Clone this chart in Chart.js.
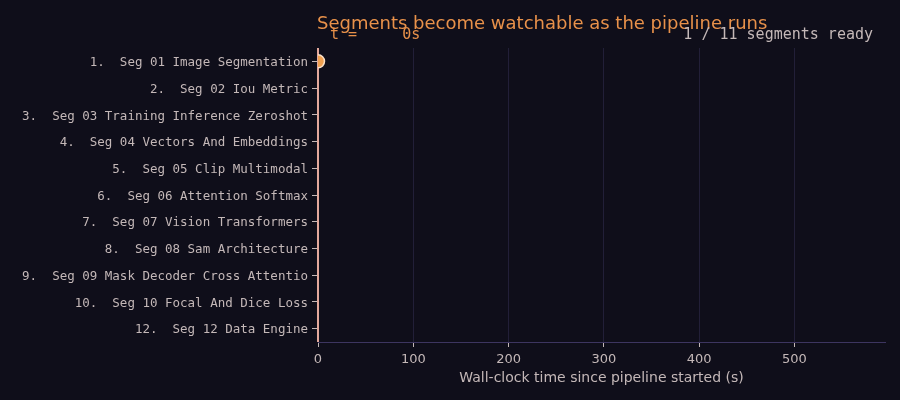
<!DOCTYPE html>
<html><head><meta charset="utf-8">
<script src="https://cdn.jsdelivr.net/npm/chart.js@4.4.1/dist/chart.umd.min.js"></script>
<style>html,body{margin:0;padding:0;background:#0f0e1a;}#wrap{width:900px;height:400px;position:relative;}</style>
</head><body><div id="wrap"><canvas id="c" width="900" height="400"></canvas></div>
<script>
const segments = [
  "1.  Seg 01 Image Segmentation",
  "2.  Seg 02 Iou Metric",
  "3.  Seg 03 Training Inference Zeroshot",
  "4.  Seg 04 Vectors And Embeddings",
  "5.  Seg 05 Clip Multimodal",
  "6.  Seg 06 Attention Softmax",
  "7.  Seg 07 Vision Transformers",
  "8.  Seg 08 Sam Architecture",
  "9.  Seg 09 Mask Decoder Cross Attentio",
  "10.  Seg 10 Focal And Dice Loss",
  "12.  Seg 12 Data Engine"
];
const readyTimes = [0];          // seconds at which segment became ready (index = row)
const tNow = 0;
const totalSegments = 11;
const xMax = 595;
const xTicks = [0, 100, 200, 300, 400, 500];

const readyPoints = readyTimes.map((t, i) => ({x: t, y: i}));
const cursorPoints = [{x: tNow, y: -0.5}, {x: tNow, y: segments.length - 0.5}];

const overlay = {
  id: 'overlay',
  afterDraw(chart) {
    const ctx = chart.ctx, a = chart.chartArea;
    ctx.save();
    ctx.fillStyle = '#e8914a';
    ctx.font = '18px "DejaVu Sans"';
    ctx.textAlign = 'left'; ctx.textBaseline = 'alphabetic';
    ctx.fillText('Segments become watchable as the pipeline runs', a.left - 1, 29);
    ctx.font = '15px "DejaVu Sans Mono"';
    ctx.textBaseline = 'middle';
    ctx.fillText('t = ' + String(tNow).padStart(5, ' ') + 's', a.left + 12, 35);
    ctx.fillStyle = '#c4b8b8';
    ctx.textAlign = 'right';
    ctx.fillText(readyTimes.length + ' / ' + totalSegments + ' segments ready', a.right - 12, 35);
    ctx.restore();
  }
};

new Chart(document.getElementById('c'), {
  type: 'scatter',
  data: {
    datasets: [
      {
        type: 'line', data: cursorPoints, borderColor: '#e2a89c', borderWidth: 2,
        pointRadius: 0, clip: false, order: 2
      },
      {
        data: readyPoints, backgroundColor: '#f0a050', borderColor: '#fbe0c8',
        borderWidth: 1.5, pointRadius: 6.5, order: 1
      }
    ]
  },
  plugins: [overlay],
  options: {
    responsive: false, animation: false,
    layout: {padding: {left: 0, right: 15, top: 48, bottom: 0}},
    plugins: {legend: {display: false}, tooltip: {enabled: false}, title: {display: false}},
    scales: {
      x: {
        type: 'linear', min: 0, max: xMax,
        afterBuildTicks: s => { s.ticks = xTicks.map(v => ({value: v})); },
        afterFit: s => { s.height = 58; },
        grid: {color: '#221f38', lineWidth: 1, drawTicks: true, tickLength: 5, tickColor: '#c4b8b8'},
        border: {color: '#3d3560', width: 1},
        ticks: {color: '#c4b8b8', font: {family: 'DejaVu Sans', size: 13}, padding: 5, maxRotation: 0},
        title: {display: true, text: 'Wall-clock time since pipeline started (s)', color: '#c4b8b8',
                font: {family: 'DejaVu Sans', size: 14}, padding: {top: 0, bottom: 13}}
      },
      y: {
        type: 'linear', min: -0.5, max: segments.length - 0.5, reverse: true,
        afterBuildTicks: s => { s.ticks = segments.map((_, i) => ({value: i})); },
        afterFit: s => { s.width = 318; },
        grid: {drawOnChartArea: false, drawTicks: true, tickLength: 6, tickColor: '#c4b8b8'},
        border: {display: false},
        ticks: {color: '#c4b8b8', font: {family: 'DejaVu Sans Mono', size: 12.5}, padding: 4,
                labelOffset: 1.5, autoSkip: false, callback: v => segments[v] ?? ''}
      }
    }
  }
});
</script></body></html>
